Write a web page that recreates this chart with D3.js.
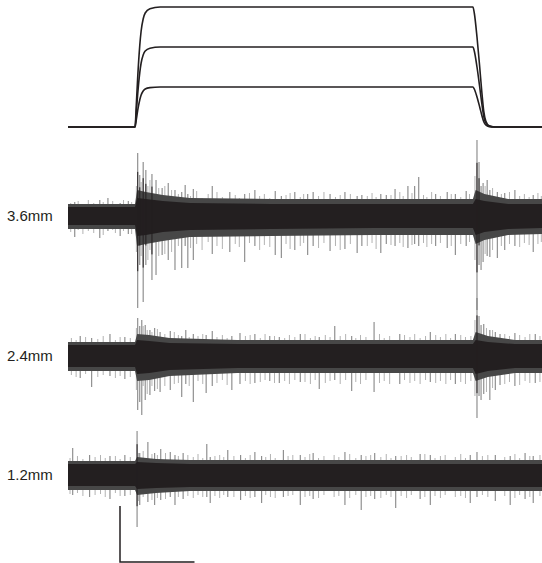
<!DOCTYPE html>
<html>
<head>
<meta charset="utf-8">
<script src="https://cdn.jsdelivr.net/npm/d3@7"></script>
<style>
  html, body { margin: 0; padding: 0; background: #fff; }
  svg { display: block; }
</style>
</head>
<body>
<div id="container"></div>
<script>
/**
 * CONSTANTS AND GLOBALS
 * */
const width = 542,
  height = 563,
  margin = { top: 7, left: 68, right: 0 };

let svg;

/**
 * DATA
 * time in ms, stimulus in mm, trace amplitudes in uV (up / down from baseline)
 * */
const timeDomain = [0, 700];
const stimAmplitudes = [1.2, 2.4, 3.6];
// normalized stimulus waveform [ms, fraction of plateau]
const stimTimes = [0, 99, 101, 103, 106, 108, 111, 114, 121, 136, 598, 600, 604, 608, 611, 614, 617, 622, 630, 700];
const stimShape = [0, 0, 0.2, 0.42, 0.68, 0.8, 0.9, 0.95, 0.985, 1, 1, 0.95, 0.75, 0.5, 0.3, 0.13, 0.05, 0.01, 0, 0];

const traceLabels = ["3.6mm", "2.4mm", "1.2mm"];

// envelopes of the dense noise band
const envT36 = [0, 99, 102, 115, 140, 180, 300, 450, 598, 602, 615, 650, 700];
const core36Up = [9, 9, 18, 17, 15, 13, 12, 12, 12, 17, 15, 12, 12];
const core36Down = [9, 9, 20, 19, 16, 14, 13, 12, 12, 19, 16, 13, 12];
const fringe36Up = [12, 12, 26, 24, 21, 18, 17, 17, 17, 26, 22, 17, 17];
const fringe36Down = [13, 13, 30, 28, 25, 21, 20, 19, 19, 28, 24, 19, 18];

const envT24 = [0, 99, 102, 120, 150, 250, 598, 602, 620, 660, 700];
const core24Up = [11, 11, 16, 15, 13, 12, 12, 16, 14, 12, 12];
const core24Down = [11, 11, 18, 17, 14, 12, 12, 18, 15, 12, 12];
const fringe24Up = [14, 14, 22, 21, 18, 16, 16, 24, 20, 16, 16];
const fringe24Down = [15, 15, 25, 24, 20, 17, 17, 25, 21, 17, 17];

const envT12 = [0, 99, 102, 130, 180, 700];
const core12Up = [11, 11, 13, 12, 11, 11];
const core12Down = [11, 11, 14, 13, 12, 12];
const fringe12Up = [14, 14, 18, 16, 15, 15];
const fringe12Down = [15, 15, 20, 18, 16, 16];

// large single deflections [ms, up, down]
const spikes36 = [
  [10, 14, 21], [47, 16, 22], [59, 18, 15], [77, 13, 20], [89, 15, 18],
  [103, 63, 92], [106, 41, 49], [111, 54, 86], [115, 46, 49], [124, 42, 64],
  [130, 36, 59], [139, 28, 39], [148, 33, 44], [158, 26, 54], [168, 24, 52],
  [173, 31, 30], [177, 22, 52], [185, 27, 44], [213, 30, 38], [239, 24, 36],
  [261, 22, 46], [276, 26, 30], [306, 25, 39], [315, 20, 42], [335, 24, 34],
  [354, 22, 39], [362, 24, 30], [387, 22, 35], [409, 24, 33], [427, 20, 37],
  [434, 21, 30], [462, 22, 37], [470, 21, 28], [483, 27, 30], [502, 30, 32],
  [512, 30, 28], [518, 39, 30], [543, 22, 30], [560, 24, 32], [572, 22, 39],
  [588, 25, 30], [604, 76, 94], [607, 54, 49], [610, 30, 54], [613, 33, 46],
  [619, 36, 40], [623, 26, 41], [634, 24, 42], [645, 23, 34], [660, 26, 30],
  [687, 21, 36]
];
const spikes24 = [
  [18, 20, 22], [35, 18, 31], [62, 22, 20], [84, 19, 23], [103, 38, 54],
  [106, 30, 46], [109, 36, 59], [114, 31, 44], [121, 26, 39], [128, 28, 35],
  [136, 24, 36], [151, 25, 34], [168, 20, 41], [174, 26, 28], [185, 22, 46],
  [204, 21, 37], [213, 25, 30], [242, 20, 34], [254, 23, 28], [276, 22, 27],
  [298, 20, 25], [312, 19, 27], [343, 22, 26], [371, 19, 33], [394, 30, 24],
  [419, 20, 35], [452, 34, 36], [490, 22, 28], [535, 24, 26], [572, 22, 28],
  [604, 58, 62], [607, 40, 40], [610, 31, 44], [614, 32, 38], [623, 26, 44],
  [631, 24, 34], [638, 22, 29], [660, 23, 30], [690, 22, 27]
];
const spikes12 = [
  [7, 27, 20], [32, 20, 22], [62, 19, 24], [84, 20, 21], [102, 44, 52],
  [106, 22, 30], [118, 33, 27], [128, 22, 30], [137, 26, 25], [151, 23, 22],
  [158, 20, 30], [170, 22, 24], [205, 31, 22], [210, 18, 28], [236, 25, 22],
  [255, 20, 25], [276, 23, 22], [286, 19, 28], [318, 25, 22], [343, 20, 30],
  [362, 22, 24], [409, 23, 30], [433, 20, 35], [453, 22, 24], [484, 19, 33],
  [520, 21, 24], [535, 20, 30], [594, 20, 28], [604, 23, 22], [631, 20, 26],
  [653, 19, 30], [675, 22, 24], [687, 19, 28]
];

// smaller deflections that make the ragged edge of the band [ms, up, down]
const ticks36 = [
  [4, 13, 16], [15, 15, 14], [22, 12, 18], [30, 16, 15], [38, 13, 17], [52, 14, 19],
  [66, 15, 14], [70, 12, 17], [82, 16, 15], [94, 14, 18],
  [101, 30, 36], [108, 34, 40], [118, 30, 44], [121, 36, 34], [134, 28, 40], [143, 30, 38], [153, 26, 36],
  [163, 22, 30], [181, 20, 32], [190, 25, 28], [198, 18, 34], [207, 22, 26], [220, 24, 30],
  [228, 19, 33], [247, 21, 28], [253, 18, 31], [268, 23, 27], [283, 20, 34], [290, 22, 29],
  [298, 18, 31], [322, 21, 28], [328, 23, 33], [343, 19, 30], [348, 22, 27], [370, 20, 32],
  [378, 24, 27], [395, 19, 30], [402, 21, 34], [417, 22, 28], [442, 20, 30], [449, 23, 27],
  [455, 19, 33], [477, 21, 29], [490, 24, 27], [495, 20, 31], [508, 23, 29], [525, 21, 27],
  [530, 19, 31], [537, 24, 28], [550, 20, 27], [566, 22, 30], [580, 19, 28], [593, 22, 26],
  [601, 40, 44], [616, 30, 38], [627, 28, 34], [640, 22, 30], [652, 24, 28], [667, 20, 31],
  [674, 22, 27], [681, 19, 29], [694, 23, 28], [699, 20, 26]
];
const ticks24 = [
  [5, 18, 19], [12, 16, 21], [26, 19, 18], [44, 17, 21], [52, 20, 19], [70, 16, 22], [77, 19, 20], [92, 18, 21],
  [101, 28, 34], [111, 30, 30], [117, 26, 38], [124, 24, 30], [132, 27, 33], [143, 22, 30], [157, 24, 28],
  [163, 21, 27], [179, 19, 30], [192, 20, 25], [199, 22, 28], [220, 19, 27], [228, 21, 24],
  [235, 18, 29], [262, 20, 25], [269, 21, 28], [284, 18, 26], [291, 22, 24], [305, 20, 27],
  [320, 18, 25], [327, 21, 28], [335, 19, 24], [350, 22, 26], [358, 18, 28], [365, 20, 24],
  [380, 21, 27], [387, 19, 25], [402, 20, 28], [410, 22, 24], [425, 18, 26], [432, 21, 28],
  [440, 19, 24], [460, 22, 27], [467, 18, 25], [475, 20, 28], [497, 21, 24], [505, 19, 27],
  [512, 22, 25], [520, 18, 28], [528, 20, 24], [543, 21, 27], [550, 19, 25], [558, 22, 28],
  [565, 18, 24], [580, 21, 26], [587, 19, 28], [595, 20, 25],
  [601, 36, 40], [618, 28, 36], [627, 26, 32], [645, 22, 28], [652, 20, 26], [667, 21, 29],
  [675, 19, 25], [682, 22, 27], [697, 20, 26]
];
const ticks12 = [
  [3, 17, 19], [14, 19, 18], [22, 16, 21], [40, 18, 20], [48, 20, 19], [55, 17, 22], [70, 19, 18],
  [77, 16, 21], [92, 18, 20],
  [104, 22, 26], [111, 24, 22], [124, 21, 25], [132, 20, 23], [144, 22, 24], [163, 19, 22],
  [177, 20, 21], [185, 18, 23], [192, 21, 20], [199, 17, 22], [217, 19, 21], [224, 20, 23],
  [230, 18, 20], [245, 19, 22], [262, 17, 21], [269, 20, 23], [292, 18, 20], [299, 21, 22],
  [306, 17, 23], [325, 19, 21], [332, 20, 20], [350, 18, 22], [357, 21, 21], [370, 17, 23],
  [378, 19, 20], [393, 20, 22], [400, 18, 21], [416, 21, 23], [425, 17, 20], [440, 19, 22],
  [447, 20, 21], [462, 18, 23], [470, 21, 20], [477, 17, 22], [492, 19, 21], [500, 20, 23],
  [507, 18, 20], [527, 21, 22], [542, 17, 21], [550, 19, 23], [557, 20, 20], [572, 18, 22],
  [580, 21, 21], [587, 17, 23], [612, 19, 20], [620, 20, 22], [645, 18, 21], [660, 21, 23],
  [667, 17, 20], [682, 19, 22], [697, 20, 21]
];

// scale bar sizes
const scaleBarMs = 110;
const scaleBarUV = 56;

/**
 * INITIALIZING FUNCTION
 * */
function init() {
  svg = d3.select("#container")
    .append("svg")
    .attr("width", width)
    .attr("height", height);

  const x = d3.scaleLinear().domain(timeDomain).range([margin.left, width - margin.right]);

  // stimulus panel
  const yStim = d3.scaleLinear().domain([0, 3.6]).range([127, margin.top]);
  const stimLine = d3.line()
    .x(d => x(d[0]))
    .y(d => yStim(d[1]))
    .curve(d3.curveMonotoneX);

  svg.selectAll(".stim")
    .data(stimAmplitudes)
    .join("path")
    .attr("class", "stim")
    .attr("fill", "none")
    .attr("stroke", "#231f20")
    .attr("stroke-width", 1.6)
    .attr("d", a => stimLine(stimTimes.map((t, i) => [t, stimShape[i] * a])));

  // recording traces
  const traces = [
    { label: traceLabels[0], center: 216, t: envT36, cu: core36Up, cd: core36Down, fu: fringe36Up, fd: fringe36Down, spikes: spikes36, ticks: ticks36 },
    { label: traceLabels[1], center: 356, t: envT24, cu: core24Up, cd: core24Down, fu: fringe24Up, fd: fringe24Down, spikes: spikes24, ticks: ticks24 },
    { label: traceLabels[2], center: 475, t: envT12, cu: core12Up, cd: core12Down, fu: fringe12Up, fd: fringe12Down, spikes: spikes12, ticks: ticks12 }
  ];

  traces.forEach(tr => {
    const y = d3.scaleLinear().domain([-100, 100]).range([tr.center + 100, tr.center - 100]);
    const g = svg.append("g").attr("class", "trace");

    const band = (up, down) => d3.area()
      .x((t) => x(t))
      .y0((t, i) => y(-down[i]))
      .y1((t, i) => y(up[i]))(tr.t);

    const vlines = (sel, data, color, w) => sel.selectAll("line")
      .data(data)
      .join("line")
      .attr("x1", d => x(d[0]))
      .attr("x2", d => x(d[0]))
      .attr("y1", d => y(d[1]))
      .attr("y2", d => y(-d[2]))
      .attr("stroke", color)
      .attr("stroke-width", w);

    // ragged edge + big deflections
    vlines(g.append("g"), tr.ticks, "#a0a0a0", 0.8);
    vlines(g.append("g"), tr.spikes, "#7a7a7a", 1);

    // outer fringe (dense overlap, dark grey)
    g.append("path")
      .attr("d", band(tr.fu, tr.fd))
      .attr("fill", "#474747");

    // dense core
    g.append("path")
      .attr("d", band(tr.cu, tr.cd))
      .attr("fill", "#231f20");

    // big deflections continue dark through the fringe
    g.append("g").selectAll("line")
      .data(tr.spikes.filter(d => d[1] > 40))
      .join("line")
      .attr("x1", d => x(d[0]))
      .attr("x2", d => x(d[0]))
      .attr("y1", d => y(d[1] * 0.7))
      .attr("y2", d => y(-d[2] * 0.6))
      .attr("stroke", "#231f20")
      .attr("stroke-width", 1);

    g.append("text")
      .attr("x", 7)
      .attr("y", tr.center + 5)
      .attr("font-family", "Liberation Sans, Arial, sans-serif")
      .attr("font-size", 15)
      .attr("fill", "#231f20")
      .text(tr.label);
  });

  // scale bar
  const barY = d3.scaleLinear().domain([0, 100]).range([562, 462]);
  const x0 = 120;
  svg.append("path")
    .attr("fill", "none")
    .attr("stroke", "#231f20")
    .attr("stroke-width", 1.5)
    .attr("d", `M${x0},${barY(scaleBarUV)}V${barY(0)}H${x0 + x(scaleBarMs) - x(0)}`);
}

init();
</script>
</body>
</html>
